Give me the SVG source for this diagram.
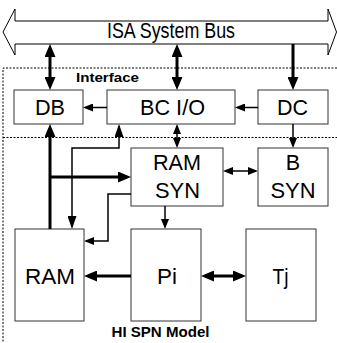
<svg xmlns="http://www.w3.org/2000/svg" width="337" height="343" viewBox="0 0 337 343">
<style>
.box{fill:#fff;stroke:#333;stroke-width:1}
.lbl{font-family:"Liberation Sans",Arial,sans-serif;font-size:21.5px;fill:#000;text-anchor:middle}
.bold{font-family:"Liberation Sans",Arial,sans-serif;font-weight:bold;fill:#000}
.thick{fill:none;stroke:#000;stroke-width:3}
.thin{fill:none;stroke:#000;stroke-width:1.5}
.dot{fill:none;stroke:#000;stroke-width:1;stroke-dasharray:2 1.5}
</style>
<defs>
<marker id="hT" viewBox="0 0 13 11" refX="9" refY="5.5" markerWidth="13" markerHeight="11" markerUnits="userSpaceOnUse" orient="auto-start-reverse"><path d="M0,0 L13,5.5 L0,11 z" fill="#000"/></marker>
<marker id="ht" viewBox="0 0 10 8" refX="8" refY="4" markerWidth="10" markerHeight="8" markerUnits="userSpaceOnUse" orient="auto-start-reverse"><path d="M0,0 L10,4 L0,8 z" fill="#000"/></marker>
<marker id="hm" viewBox="0 0 13 9" refX="11" refY="4.5" markerWidth="13" markerHeight="9" markerUnits="userSpaceOnUse" orient="auto-start-reverse"><path d="M0,0 L13,4.5 L0,9 z" fill="#000"/></marker>
</defs>

<g id="regions">
<path class="dot" d="M337,68 H3 V343"/>
<path class="dot" d="M3,137.5 H337"/>
<text class="bold" x="76" y="82" font-size="13" textLength="63" lengthAdjust="spacingAndGlyphs">Interface</text>
<text class="bold" x="111.5" y="337" font-size="14.5" textLength="98" lengthAdjust="spacingAndGlyphs">HI SPN Model</text>
</g>

<g id="bus">
<polygon points="3,32 15,9 15,21 328,21 328,9 336.5,32 328,55 328,44 15,44 15,55" fill="#fff" stroke="#000" stroke-width="1"/>
<text class="lbl" x="171" y="38" font-size="15.5" textLength="128" lengthAdjust="spacingAndGlyphs">ISA System Bus</text>
</g>

<g id="DB"><rect class="box" x="14" y="90" width="69" height="34"/><text class="lbl" x="50" y="115" textLength="30" lengthAdjust="spacingAndGlyphs">DB</text></g>
<g id="BCIO"><rect class="box" x="107" y="90" width="128" height="34"/><text class="lbl" x="172.5" y="115" textLength="65" lengthAdjust="spacingAndGlyphs">BC I/O</text></g>
<g id="DC"><rect class="box" x="258" y="90" width="70" height="34"/><text class="lbl" x="292.5" y="115" textLength="31" lengthAdjust="spacingAndGlyphs">DC</text></g>
<g id="RAMSYN"><rect class="box" x="131" y="148" width="92" height="58"/><text class="lbl" x="177" y="169.5" textLength="48" lengthAdjust="spacingAndGlyphs">RAM</text><text class="lbl" x="177.5" y="197.5" textLength="45" lengthAdjust="spacingAndGlyphs">SYN</text></g>
<g id="BSYN"><rect class="box" x="258" y="148" width="70" height="58"/><text class="lbl" x="293" y="169.5">B</text><text class="lbl" x="293" y="197.5" textLength="45" lengthAdjust="spacingAndGlyphs">SYN</text></g>
<g id="RAM"><rect class="box" x="15" y="229" width="69" height="92"/><text class="lbl" x="50" y="283.5" textLength="50" lengthAdjust="spacingAndGlyphs">RAM</text></g>
<g id="Pi"><rect class="box" x="131" y="229" width="70" height="92"/><text class="lbl" x="167" y="283.5" textLength="20" lengthAdjust="spacingAndGlyphs">Pi</text></g>
<g id="Tj"><rect class="box" x="246" y="229" width="70" height="92"/><text class="lbl" x="280.5" y="283.5" textLength="16" lengthAdjust="spacingAndGlyphs">Tj</text></g>

<g id="connectors">
<path class="thick" d="M50,48 V86" marker-start="url(#hT)" marker-end="url(#hT)"/>
<path class="thick" d="M177,48 V86" marker-start="url(#hT)" marker-end="url(#hT)"/>
<path class="thick" d="M293,44 V86" marker-end="url(#hT)"/>
<path class="thick" d="M50,229 V128" marker-end="url(#hT)"/>
<path class="thick" d="M50,177 H127" marker-end="url(#hT)"/>
<path class="thick" d="M131,276 H88" marker-end="url(#hT)"/>
<path class="thick" d="M205,276 H242" marker-start="url(#hT)" marker-end="url(#hT)"/>
<path class="thin" d="M107,107.5 H85" marker-end="url(#ht)"/>
<path class="thin" d="M258,107.5 H237" marker-end="url(#ht)"/>
<path class="thin" d="M293,124 V146" marker-end="url(#ht)"/>
<path class="thin" d="M177,126 V146" marker-start="url(#ht)" marker-end="url(#ht)"/>
<path class="thin" d="M225,171 H256" marker-start="url(#ht)" marker-end="url(#ht)"/>
<path class="thin" d="M119,126 V148 H72 V227" marker-start="url(#hm)" marker-end="url(#hm)"/>
<path class="thin" d="M131,194 H108 V241 H86" marker-end="url(#ht)"/>
<path class="thin" d="M165,206 V227" marker-end="url(#ht)"/>
</g>
</svg>
